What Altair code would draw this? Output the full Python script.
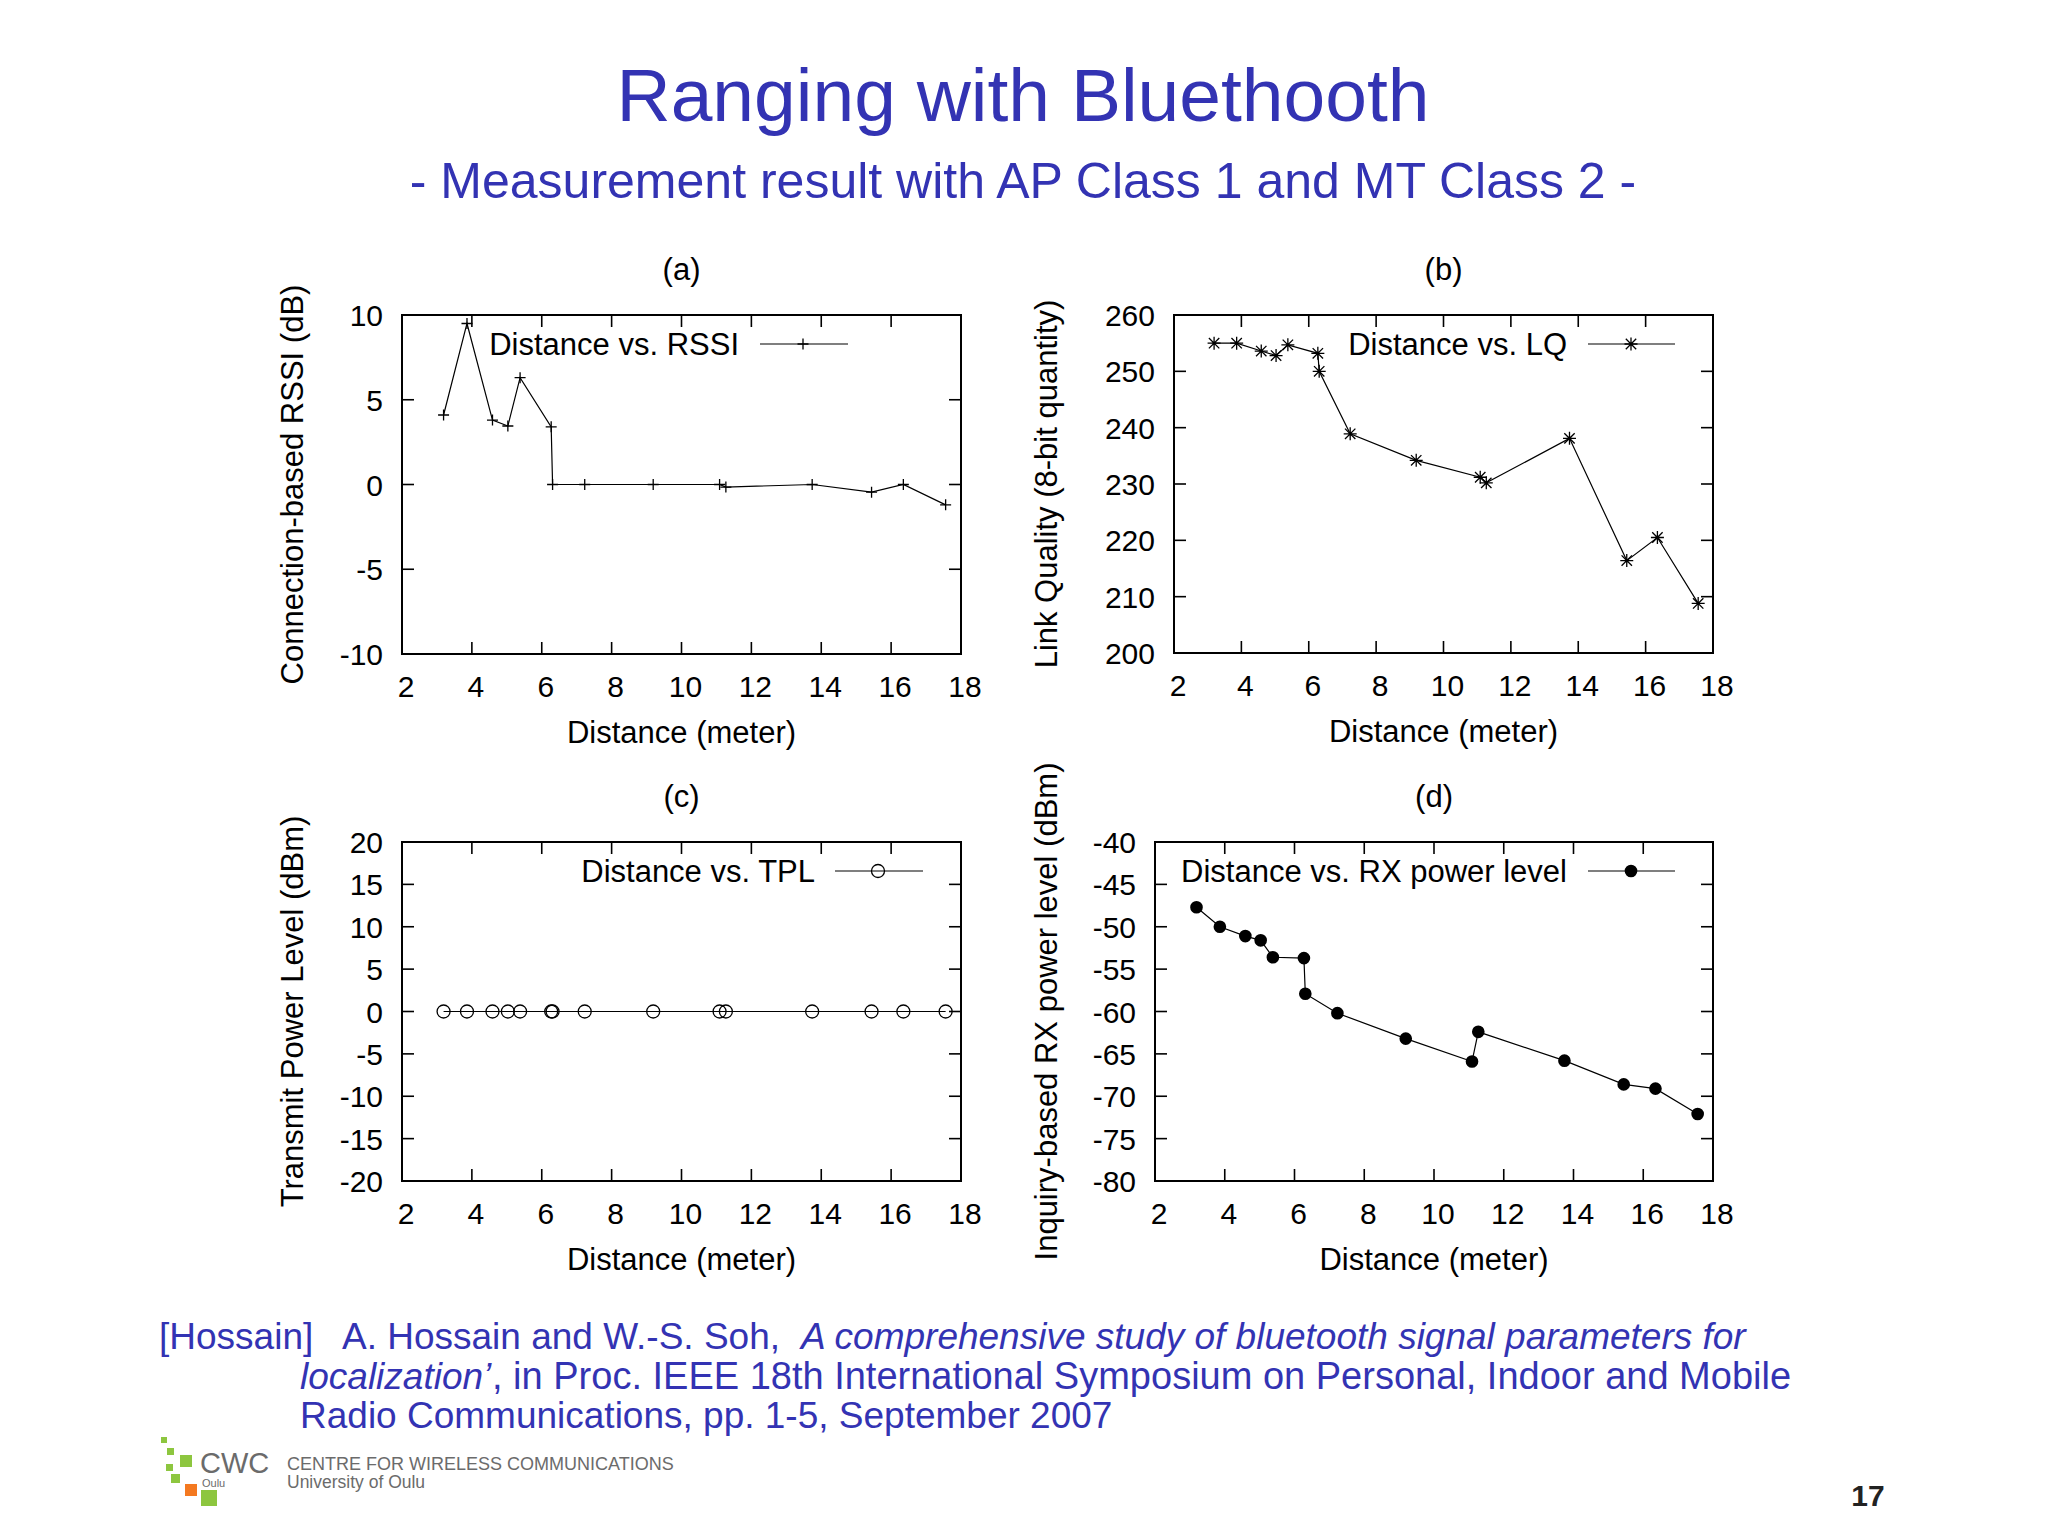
import altair as alt
import pandas as pd

# ---------------- data ----------------
distance = [3.19, 3.86, 4.59, 5.03, 5.38, 6.27, 6.31, 7.23, 9.19, 11.09, 11.27, 13.74, 15.44, 16.35, 17.56]
rssi = [4.1, 9.5, 3.8, 3.45, 6.3, 3.4, 0.0, 0.0, 0.0, 0.0, -0.15, 0.0, -0.45, 0.0, -1.2]
link_quality = [255.0, 255.0, 253.6, 252.8, 254.7, 253.2, 250.0, 238.9, 234.2, 231.2, 230.2, 238.1, 216.4, 220.5, 208.8]
tx_power = [0, 0, 0, 0, 0, 0, 0, 0, 0, 0, 0, 0, 0, 0, 0]
rx_power = [-47.7, -50.0, -51.1, -51.6, -53.6, -53.7, -57.9, -60.2, -63.2, -65.9, -62.4, -65.8, -68.6, -69.1, -72.1]

x_ticks = [2, 4, 6, 8, 10, 12, 14, 16, 18]
y_ticks_a = [-10, -5, 0, 5, 10]
y_ticks_b = [200, 210, 220, 230, 240, 250, 260]
y_ticks_c = [-20, -15, -10, -5, 0, 5, 10, 15, 20]
y_ticks_d = [-80, -75, -70, -65, -60, -55, -50, -45, -40]

# ---------------- layout ----------------
FONT = "Liberation Sans"
BLUE = "#3333B3"
GREY = "#6b6b6b"
W, H = 2032, 1520
M = 8


def px(v):
    return v - M


ONE = pd.DataFrame({"k": [0]})


def text(t, x, y, size, color="black", align="center", baseline="alphabetic",
         weight="normal", style="normal", angle=0):
    return alt.Chart(ONE).mark_text(
        text=t, align=align, baseline=baseline, fontSize=size, font=FONT,
        fontWeight=weight, fontStyle=style, color=color, angle=angle
    ).encode(x=alt.value(px(x)), y=alt.value(px(y)))


PLUS = "M-1,0H1M0,-1V1"
STAR = "M-1,0H1M0,-1V1M-0.8,-0.8L0.8,0.8M-0.8,0.8L0.8,-0.8"

markers = {
    "a": dict(shape=PLUS, size=121, filled=False, color="black", strokeWidth=1.3, opacity=1),
    "b": dict(shape=STAR, size=169, filled=False, color="black", strokeWidth=1.3, opacity=1),
    "c": dict(shape="circle", size=169, filled=False, color="black", strokeWidth=1.3, opacity=1),
    "d": dict(shape="circle", size=160, filled=True, color="black", opacity=1),
}


def panel(vals, box, yticks, ytitle, title_x, letter, legend_text, legend_pos, marker):
    L, R, T, B = box
    ydom = [yticks[0], yticks[-1]]
    df = pd.DataFrame({"d": distance, "v": vals, "i": list(range(len(distance)))})
    xs = alt.Scale(domain=[2, 18], range=[px(L), px(R)], nice=False, zero=False)
    ys = alt.Scale(domain=ydom, range=[px(B), px(T)], nice=False, zero=False)

    def X(field):
        return alt.X(field, scale=xs, axis=None)

    def Y(field):
        return alt.Y(field, scale=ys, axis=None)

    def XD(v):
        return alt.XDatum(v, type="quantitative", scale=xs, axis=None)

    def YD(v):
        return alt.YDatum(v, type="quantitative", scale=ys, axis=None)

    line = alt.Chart(df).mark_line(color="black", strokeWidth=1.2).encode(
        x=X("d:Q"), y=Y("v:Q"), order="i:Q")
    pts = alt.Chart(df).mark_point(**marker).encode(x=X("d:Q"), y=Y("v:Q"))
    frame = alt.Chart(ONE).mark_rect(fillOpacity=0, stroke="black", strokeWidth=2).encode(
        x=XD(2), x2=alt.X2Datum(18), y=YD(ydom[0]), y2=alt.Y2Datum(ydom[1]))

    xt = pd.DataFrame({"t": x_ticks, "lab": [str(v) for v in x_ticks]})
    yt = pd.DataFrame({"t": yticks, "lab": [str(v) for v in yticks]})
    xin = xt.iloc[1:-1]
    yin = yt.iloc[1:-1]
    ts = dict(color="black", strokeWidth=1.6)
    t_bottom = alt.Chart(xin).mark_rule(y2Offset=-12, **ts).encode(
        x=X("t:Q"), y=YD(ydom[0]), y2=alt.Y2Datum(ydom[0]))
    t_top = alt.Chart(xin).mark_rule(y2Offset=12, **ts).encode(
        x=X("t:Q"), y=YD(ydom[1]), y2=alt.Y2Datum(ydom[1]))
    t_left = alt.Chart(yin).mark_rule(x2Offset=12, **ts).encode(
        y=Y("t:Q"), x=XD(2), x2=alt.X2Datum(2))
    t_right = alt.Chart(yin).mark_rule(x2Offset=-12, **ts).encode(
        y=Y("t:Q"), x=XD(18), x2=alt.X2Datum(18))

    x_labels = alt.Chart(xt).mark_text(
        font=FONT, fontSize=30, color="black", align="center", baseline="alphabetic", dy=43, dx=4
    ).encode(x=X("t:Q"), y=YD(ydom[0]), text="lab:N")
    y_labels = alt.Chart(yt).mark_text(
        font=FONT, fontSize=30, color="black", align="right", baseline="alphabetic", dx=-19, dy=11
    ).encode(y=Y("t:Q"), x=XD(2), text="lab:N")

    x_title = text("Distance (meter)", (L + R) / 2, B + 89, 31)
    y_title = text(ytitle, title_x, (T + B) / 2, 31, angle=270)

    tx_end, ty, l1, l2, lm = legend_pos
    leg_text = text(legend_text, tx_end, ty, 31, align="right")
    leg_line = alt.Chart(ONE).mark_rule(color="black", strokeWidth=1.2).encode(
        x=alt.value(px(l1)), x2=alt.value(px(l2)), y=alt.value(px(ty - 11)))
    leg_pt = alt.Chart(ONE).mark_point(**marker).encode(
        x=alt.value(px(lm)), y=alt.value(px(ty - 11)))
    ptitle = text(letter, (L + R) / 2, T - 35, 31)

    return alt.layer(frame, t_bottom, t_top, t_left, t_right, line, pts,
                     x_labels, y_labels, x_title, y_title,
                     leg_text, leg_line, leg_pt, ptitle)


pa = panel(rssi, (402, 961, 315, 654), y_ticks_a, "Connection-based RSSI (dB)", 303, "(a)",
           "Distance vs. RSSI", (739, 355, 760, 848, 803), markers["a"])
pb = panel(link_quality, (1174, 1713, 315, 653), y_ticks_b, "Link Quality (8-bit quantity)", 1057, "(b)",
           "Distance vs. LQ", (1567, 355, 1588, 1675, 1631), markers["b"])
pc = panel(tx_power, (402, 961, 842, 1181), y_ticks_c, "Transmit Power Level (dBm)", 303, "(c)",
           "Distance vs. TPL", (815, 882, 835, 923, 878), markers["c"])
pd_ = panel(rx_power, (1155, 1713, 842, 1181), y_ticks_d, "Inquiry-based RX power level (dBm)", 1057, "(d)",
            "Distance vs. RX power level", (1567, 882, 1588, 1675, 1631), markers["d"])

decor = [
    text("Ranging with Bluethooth", 1023, 121, 75, BLUE),
    text("- Measurement result with AP Class 1 and MT Class 2 -", 1023, 198, 50, BLUE),
    text("[Hossain]", 159, 1349, 37, BLUE, align="left"),
    text("A. Hossain and W.-S. Soh,", 342, 1349, 37, BLUE, align="left"),
    text("A comprehensive study of bluetooth signal parameters for", 801, 1349, 37, BLUE,
         align="left", style="italic"),
    text("localization\u2019", 300, 1389, 37, BLUE, align="left", style="italic"),
    text(", in Proc. IEEE 18th International Symposium on Personal, Indoor and Mobile", 492, 1389, 38,
         BLUE, align="left"),
    text("Radio Communications, pp. 1-5, September 2007", 300, 1428, 37, BLUE, align="left"),
    text("CWC", 200, 1473, 29, GREY, align="left"),
    text("Oulu", 202, 1487, 11, GREY, align="left"),
    text("CENTRE FOR WIRELESS COMMUNICATIONS", 287, 1470, 18, GREY, align="left"),
    text("University of Oulu", 287, 1488, 17.5, GREY, align="left"),
    text("17", 1868, 1506, 30, "#222222", weight="bold"),
]

logo_squares = [
    (161, 1437, 6, "#8dc63f"), (167, 1448, 7, "#8dc63f"), (180, 1455, 12, "#8dc63f"),
    (166, 1464, 7, "#8dc63f"), (171, 1474, 9, "#8dc63f"), (185, 1484, 12, "#f47920"),
    (201, 1490, 16, "#8dc63f"),
]
for sx, sy, ss, sc in logo_squares:
    decor.append(alt.Chart(ONE).mark_rect(color=sc).encode(
        x=alt.value(px(sx)), x2=alt.value(px(sx + ss)),
        y=alt.value(px(sy)), y2=alt.value(px(sy + ss))))

chart = alt.layer(pa, pb, pc, pd_, *decor).resolve_scale(
    x="independent", y="independent"
).properties(
    width=W, height=H, autosize=alt.AutoSizeParams(type="none"), padding=0,
    background="white"
).configure_view(strokeWidth=0)

chart.save("out.html", embed_options={"renderer": "svg", "actions": False})
